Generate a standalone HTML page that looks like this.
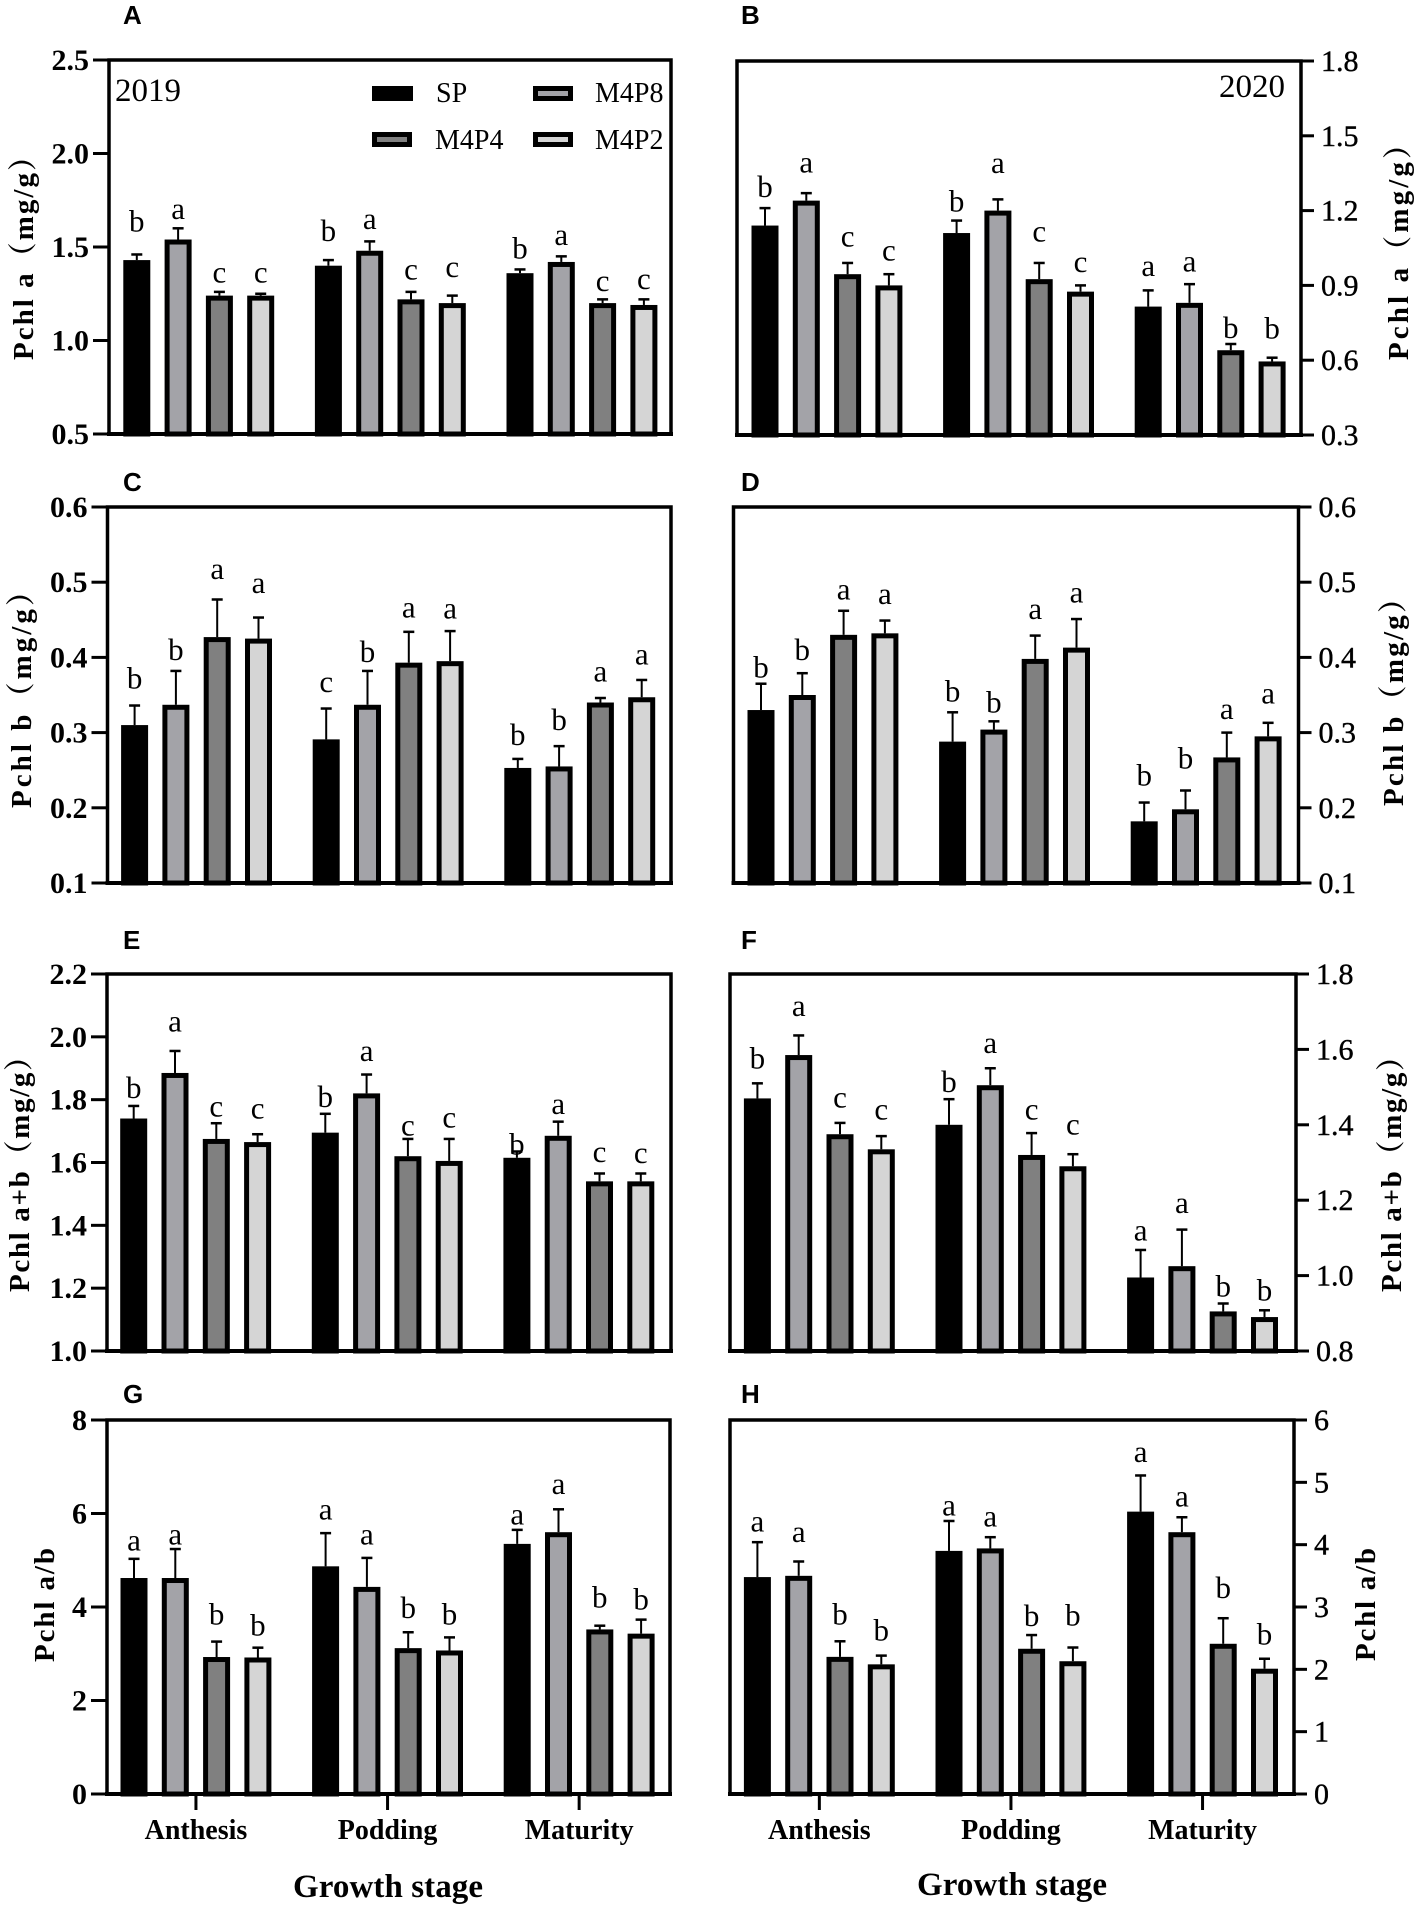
<!DOCTYPE html>
<html lang="en">
<head>
<meta charset="utf-8">
<title>Pchl content by growth stage</title>
<style>
html,body{margin:0;padding:0;background:#fff;width:1417px;height:1909px;overflow:hidden}
svg{display:block}
text{font-family:"Liberation Serif","Noto Serif CJK SC",serif;fill:#000}
.panel-letter{font-family:"Liberation Sans",sans-serif;font-weight:700;font-size:26px}
.axis-title{font-weight:700;font-size:29px}
.stage-title{font-weight:700;font-size:33px}
.legend-text{font-size:28px}
.year{font-size:33px}
</style>
</head>
<body>
<svg id="chart" xmlns="http://www.w3.org/2000/svg" width="1417" height="1909" viewBox="0 0 1417 1909">
  <rect width="1417" height="1909" fill="#fff"/>
  <g id="marks"></g>

  <text class="panel-letter" x="123" y="24">A</text>
  <text class="panel-letter" x="741" y="24">B</text>
  <text class="panel-letter" x="123" y="491">C</text>
  <text class="panel-letter" x="741" y="491">D</text>
  <text class="panel-letter" x="123" y="949">E</text>
  <text class="panel-letter" x="741" y="949">F</text>
  <text class="panel-letter" x="123" y="1403">G</text>
  <text class="panel-letter" x="741" y="1403">H</text>

  <text class="axis-title" transform="translate(33,360) rotate(-90)" textLength="218" lengthAdjust="spacing">Pchl a（mg/g）</text>
  <text class="axis-title" transform="translate(1408,360) rotate(-90)" textLength="230" lengthAdjust="spacing">Pchl a（mg/g）</text>
  <text class="axis-title" transform="translate(31,808) rotate(-90)" textLength="231" lengthAdjust="spacing">Pchl b（mg/g）</text>
  <text class="axis-title" transform="translate(1403,806) rotate(-90)" textLength="222" lengthAdjust="spacing">Pchl b（mg/g）</text>
  <text class="axis-title" transform="translate(29,1292) rotate(-90)" textLength="250" lengthAdjust="spacing">Pchl a+b（mg/g）</text>
  <text class="axis-title" transform="translate(1401,1292) rotate(-90)" textLength="250" lengthAdjust="spacing">Pchl a+b（mg/g）</text>
  <text class="axis-title" transform="translate(54,1662) rotate(-90)" textLength="114" lengthAdjust="spacing">Pchl a/b</text>
  <text class="axis-title" transform="translate(1375,1661) rotate(-90)" textLength="113" lengthAdjust="spacing">Pchl a/b</text>

  <text class="year" x="115" y="101">2019</text>
  <text class="year" x="1219" y="97">2020</text>

  <g>
    <g>
      <rect x="372" y="86" width="41" height="15" fill="#000"/>
      <text class="legend-text" x="436" y="102">SP</text>
    </g>
    <g>
      <rect x="535.5" y="88.5" width="35" height="10" fill="#a3a3a8" stroke="#000" stroke-width="5"/>
      <text class="legend-text" x="595" y="102">M4P8</text>
    </g>
    <g>
      <rect x="374.5" y="134.5" width="35" height="10" fill="#808080" stroke="#000" stroke-width="5"/>
      <text class="legend-text" x="435" y="149">M4P4</text>
    </g>
    <g>
      <rect x="535.5" y="134.5" width="35" height="10" fill="#d5d5d5" stroke="#000" stroke-width="5"/>
      <text class="legend-text" x="595" y="149">M4P2</text>
    </g>
  </g>

  <text class="stage-title" x="293" y="1897" textLength="190" lengthAdjust="spacing">Growth stage</text>
  <text class="stage-title" x="917" y="1895" textLength="190" lengthAdjust="spacing">Growth stage</text>
</svg>

<script>
// Shared categories and series
const categories = ['Anthesis', 'Podding', 'Maturity'];
const seriesNames = ['SP', 'M4P8', 'M4P4', 'M4P2'];

// Panel A: Pchl a 2019
const ticksA = ['0.5', '1.0', '1.5', '2.0', '2.5'];
const meansA = [1.43, 1.54, 1.24, 1.24, 1.40, 1.48, 1.22, 1.20, 1.36, 1.42, 1.20, 1.19];
const errorsA = [0.03, 0.06, 0.02, 0.01, 0.03, 0.05, 0.04, 0.04, 0.02, 0.03, 0.02, 0.03];
const lettersA = ['b', 'a', 'c', 'c', 'b', 'a', 'c', 'c', 'b', 'a', 'c', 'c'];

// Panel B: Pchl a 2020
const ticksB = ['0.3', '0.6', '0.9', '1.2', '1.5', '1.8'];
const meansB = [1.14, 1.24, 0.945, 0.90, 1.11, 1.20, 0.925, 0.875, 0.815, 0.83, 0.64, 0.595];
const errorsB = [0.07, 0.03, 0.045, 0.045, 0.05, 0.045, 0.065, 0.025, 0.065, 0.075, 0.025, 0.015];
const lettersB = ['b', 'a', 'c', 'c', 'b', 'a', 'c', 'c', 'a', 'a', 'b', 'b'];

// Panel C: Pchl b 2019
const ticksC = ['0.1', '0.2', '0.3', '0.4', '0.5', '0.6'];
const meansC = [0.31, 0.337, 0.427, 0.425, 0.291, 0.337, 0.393, 0.395, 0.253, 0.255, 0.34, 0.347];
const errorsC = [0.026, 0.045, 0.05, 0.028, 0.041, 0.045, 0.041, 0.04, 0.012, 0.027, 0.006, 0.023];
const lettersC = ['b', 'b', 'a', 'a', 'c', 'b', 'a', 'a', 'b', 'b', 'a', 'a'];

// Panel D: Pchl b 2020
const ticksD = ['0.1', '0.2', '0.3', '0.4', '0.5', '0.6'];
const meansD = [0.33, 0.35, 0.43, 0.432, 0.288, 0.304, 0.398, 0.413, 0.182, 0.198, 0.267, 0.295];
const errorsD = [0.035, 0.029, 0.032, 0.017, 0.039, 0.011, 0.031, 0.038, 0.025, 0.025, 0.033, 0.018];
const lettersD = ['b', 'b', 'a', 'a', 'b', 'b', 'a', 'a', 'b', 'b', 'a', 'a'];

// Panel E: Pchl a+b 2019
const ticksE = ['1.0', '1.2', '1.4', '1.6', '1.8', '2.0', '2.2'];
const meansE = [1.74, 1.885, 1.675, 1.665, 1.695, 1.82, 1.62, 1.605, 1.615, 1.685, 1.54, 1.54];
const errorsE = [0.04, 0.07, 0.05, 0.025, 0.06, 0.06, 0.055, 0.07, 0.02, 0.045, 0.025, 0.025];
const lettersE = ['b', 'a', 'c', 'c', 'b', 'a', 'c', 'c', 'b', 'a', 'c', 'c'];

// Panel F: Pchl a+b 2020
const ticksF = ['0.8', '1.0', '1.2', '1.4', '1.6', '1.8'];
const meansF = [1.47, 1.585, 1.375, 1.335, 1.40, 1.505, 1.32, 1.29, 0.995, 1.025, 0.905, 0.89];
const errorsF = [0.04, 0.052, 0.03, 0.035, 0.068, 0.045, 0.058, 0.032, 0.073, 0.097, 0.021, 0.018];
const lettersF = ['b', 'a', 'c', 'c', 'b', 'a', 'c', 'c', 'a', 'a', 'b', 'b'];

// Panel G: Pchl a/b 2019
const ticksG = ['0', '2', '4', '6', '8'];
const meansG = [4.62, 4.62, 2.93, 2.92, 4.87, 4.43, 3.12, 3.07, 5.35, 5.6, 3.52, 3.43];
const errorsG = [0.41, 0.62, 0.33, 0.21, 0.71, 0.62, 0.34, 0.28, 0.30, 0.49, 0.08, 0.30];
const lettersG = ['a', 'a', 'b', 'b', 'a', 'a', 'b', 'b', 'a', 'a', 'b', 'b'];

// Panel H: Pchl a/b 2020
const ticksH = ['0', '1', '2', '3', '4', '5', '6'];
const meansH = [3.48, 3.5, 2.2, 2.08, 3.9, 3.94, 2.33, 2.13, 4.53, 4.2, 2.41, 2.01];
const errorsH = [0.56, 0.23, 0.25, 0.14, 0.48, 0.18, 0.22, 0.22, 0.58, 0.24, 0.41, 0.16];
const lettersH = ['a', 'a', 'b', 'b', 'a', 'a', 'b', 'b', 'a', 'a', 'b', 'b'];

// Layout (separate from data): frame geometry and label nudges
const panelLayouts = [
  {id: 'a', ticks: ticksA, means: meansA, errors: errorsA, letters: lettersA, side: 'left', left: 109, right: 671, top: 60, bottom: 434, x0: 136.8, gap: [33,17,17,19,29,20,20,26,21,19,16,18]},
  {id: 'b', ticks: ticksB, means: meansB, errors: errorsB, letters: lettersB, side: 'right', left: 737, right: 1301, top: 61, bottom: 435, x0: 765, gap: [21,28,24,21,19,34,29,21,22,20,16,29]},
  {id: 'c', ticks: ticksC, means: meansC, errors: errorsC, letters: lettersC, side: 'left', left: 107.5, right: 671, top: 507, bottom: 883, x0: 134.6, gap: [27,21,28,32,24,19,22,20,24,26,24,23]},
  {id: 'd', ticks: ticksD, means: meansD, errors: errorsD, letters: lettersD, side: 'right', left: 733.5, right: 1298.5, top: 507, bottom: 883, x0: 761, gap: [16,23,19,24,21,19,24,24,27,32,21,27]},
  {id: 'e', ticks: ticksE, means: meansE, errors: errorsE, letters: lettersE, side: 'left', left: 107, right: 671, top: 974, bottom: 1351, x0: 133.7, gap: [18,27,14,23,17,21,11,19,7,15,19,18]},
  {id: 'f', ticks: ticksF, means: meansF, errors: errorsF, letters: lettersF, side: 'right', left: 730, right: 1296, top: 974, bottom: 1351, x0: 757.4, gap: [25,27,23,24,17,23,21,27,17,24,17,20]},
  {id: 'g', ticks: ticksG, means: meansG, errors: errorsG, letters: lettersG, side: 'left', left: 107, right: 670, top: 1420, bottom: 1794, x0: 134, gap: [16,12,27,22,21,21,24,23,13,23,28,20], stageLabels: true},
  {id: 'h', ticks: ticksH, means: meansH, errors: errorsH, letters: lettersH, side: 'right', left: 730, right: 1294, top: 1420, bottom: 1794, x0: 757.4, gap: [18,27,27,25,13,18,19,32,21,18,30,24], stageLabels: true}
];
const barFills = ['#000000', '#a3a3a8', '#808080', '#d5d5d5'];
const barStep = 41.3;
const groupStep = 191.6;
const barWidth = 27;
const barStroke = 5;

const SVG_NS = 'http://www.w3.org/2000/svg';
const root = document.getElementById('marks');

function make(tag, parent, attrs) {
  const el = document.createElementNS(SVG_NS, tag);
  for (const key in attrs) el.setAttribute(key, attrs[key]);
  parent.appendChild(el);
  return el;
}

function drawPanel(p) {
  const group = make('g', root, {});
  
  

  const lo = parseFloat(p.ticks[0]);
  const hi = parseFloat(p.ticks[p.ticks.length - 1]);
  const yScale = function (v) { return p.bottom - (v - lo) / (hi - lo) * (p.bottom - p.top); };
  const groupCentre = function (c) { return p.x0 + 1.5 * barStep + c * groupStep; };
  const barCentre = function (i) {
    const c = Math.floor(i / seriesNames.length);
    const s = i % seriesNames.length;
    return p.x0 + s * barStep + c * groupStep;
  };

  // Y ticks and labels
  p.ticks.forEach(function (label) {
    const y = yScale(parseFloat(label));
    const x1 = p.side === 'left' ? p.left - 16 : p.right;
    const x2 = p.side === 'left' ? p.left : p.right + 13;
    const tick = make('line', group, {x1: x1, x2: x2, y1: y, y2: y, stroke: '#000', 'stroke-width': 3});
    
    
    const text = make('text', group, {
      x: p.side === 'left' ? p.left - 20 : p.right + 20,
      y: y + 10,
      'text-anchor': p.side === 'left' ? 'end' : 'start',
      'font-size': 30,
      'font-weight': p.side === 'left' ? 700 : 400,
      stroke: p.side === 'left' ? 'none' : '#000',
      'stroke-width': p.side === 'left' ? 0 : 0.4
    });
    text.textContent = label;
    
    
  });

  // Frame
  const frame = make('rect', group, {x: p.left, y: p.top, width: p.right - p.left, height: p.bottom - p.top, fill: 'none', stroke: '#000', 'stroke-width': 3.5});
  
  

  // Error bars, bars, letters
  p.means.forEach(function (mean, i) {
    const cx = barCentre(i);
    const s = i % seriesNames.length;
    const yTop = yScale(mean);
    const yErr = yScale(mean + p.errors[i]);

    const stem = make('line', group, {x1: cx, x2: cx, y1: yTop, y2: yErr, stroke: '#000', 'stroke-width': 2});
    
    

    const cap = make('line', group, {x1: cx - 5.5, x2: cx + 5.5, y1: yErr, y2: yErr, stroke: '#000', 'stroke-width': 2.5});
    
    

    const bar = make('rect', group, {
      x: cx - barWidth / 2 + barStroke / 2,
      y: yTop + barStroke / 2,
      width: barWidth - barStroke,
      height: Math.max(0, p.bottom - yTop - barStroke / 2),
      fill: barFills[s],
      stroke: '#000',
      'stroke-width': barStroke
    });
    
    

    const letter = make('text', group, {x: cx, y: yErr - p.gap[i] + (p.letters[i] === 'b' ? 10 : 7.5), 'text-anchor': 'middle', 'font-size': 31});
    letter.textContent = p.letters[i];
    
    
  });

  // Axis redraw over bar bottoms
  const axis = make('line', group, {x1: p.left - 2, x2: p.right + 2, y1: p.bottom, y2: p.bottom, stroke: '#000', 'stroke-width': 4});
  
  

  // Category ticks and labels on the bottom row only
  if (p.stageLabels) {
    categories.forEach(function (name, c) {
      const cx = groupCentre(c);
      const tick = make('line', group, {x1: cx, x2: cx, y1: p.bottom, y2: p.bottom + 16, stroke: '#000', 'stroke-width': 3});
      
      
      const text = make('text', group, {x: cx, y: 1839, 'text-anchor': 'middle', 'font-size': 28, 'font-weight': 700});
      text.textContent = name;
      
      
    });
  }
}

panelLayouts.forEach(drawPanel);
</script>
</body>
</html>
